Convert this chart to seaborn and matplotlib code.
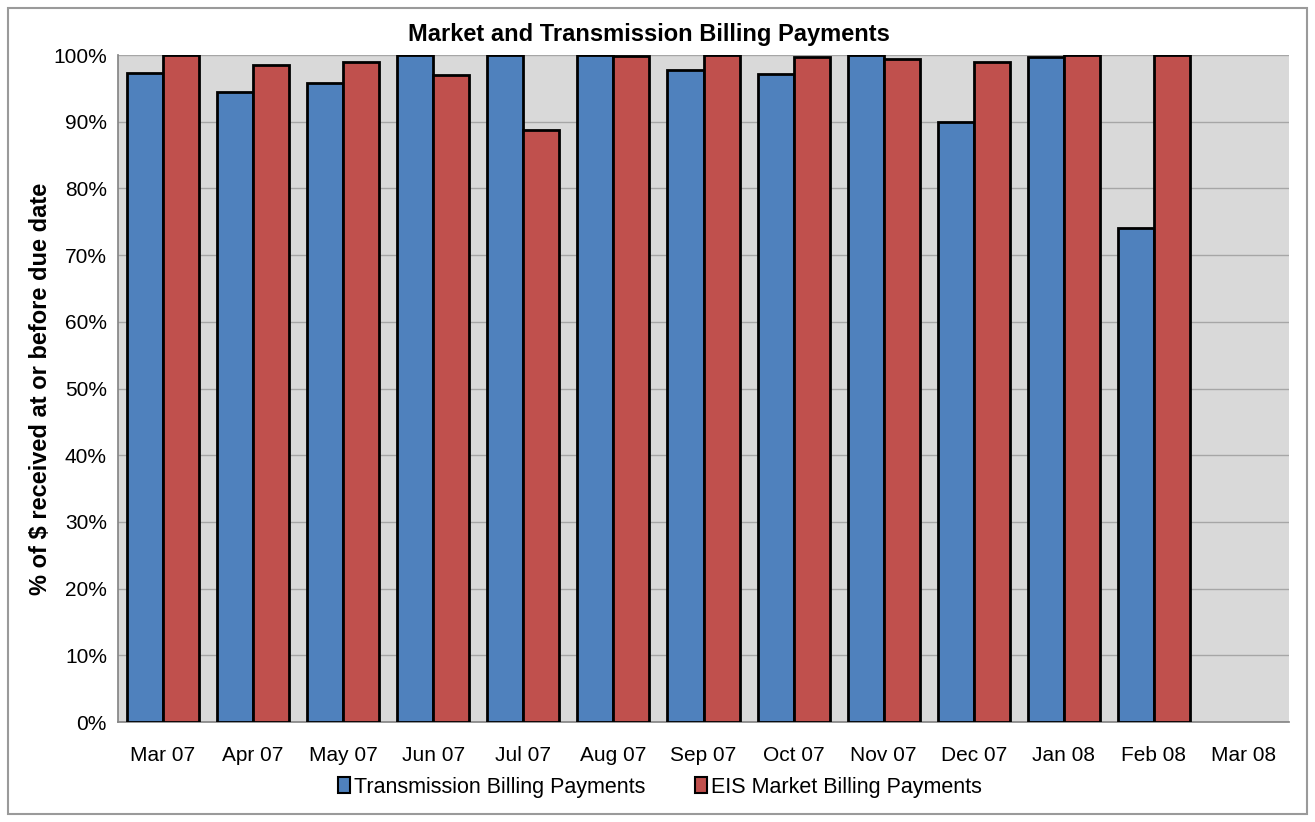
import numpy as np
import pandas as pd
import matplotlib
matplotlib.use("Agg")
import matplotlib.pyplot as plt
import seaborn as sns
from matplotlib.ticker import PercentFormatter, FixedLocator

months = ["Mar 07", "Apr 07", "May 07", "Jun 07", "Jul 07", "Aug 07", "Sep 07",
          "Oct 07", "Nov 07", "Dec 07", "Jan 08", "Feb 08", "Mar 08"]
transmission = [97.3, 94.5, 95.8, 100.0, 100.0, 100.0, 97.7,
                97.2, 100.0, 90.0, 99.7, 74.0, np.nan]
eis_market = [100.0, 98.5, 98.9, 97.0, 88.8, 99.9, 100.0,
              99.7, 99.4, 98.9, 100.0, 100.0, np.nan]
series_names = ["Transmission Billing Payments", "EIS Market Billing Payments"]
palette = ["#4F81BD", "#C0504D"]

df = pd.DataFrame({
    "month": months * 2,
    "series": [series_names[0]] * len(months) + [series_names[1]] * len(months),
    "value": transmission + eis_market,
})

sns.set_theme(style="white")
plt.rcParams["font.family"] = ["Liberation Sans", "DejaVu Sans"]
plt.rcParams["text.color"] = "black"
plt.rcParams["axes.labelcolor"] = "black"
plt.rcParams["xtick.color"] = "black"
plt.rcParams["ytick.color"] = "black"

fig = plt.figure(figsize=(13.15, 8.22), dpi=100)
ax = fig.add_axes([118 / 1315, 1 - 722 / 822, (1289 - 118) / 1315, (722 - 55) / 822])
ax.set_facecolor("#D9D9D9")

sns.barplot(data=df, x="month", y="value", hue="series", order=months,
            hue_order=series_names, palette=palette, width=0.8, gap=0,
            edgecolor="black", linewidth=2, saturation=1, ax=ax, legend=False,
            zorder=3)

ax.set_ylim(0, 100)
ax.set_xlim(-0.5, len(months) - 0.5)
ax.yaxis.set_major_locator(FixedLocator(np.arange(0, 101, 10)))
ax.yaxis.set_major_formatter(PercentFormatter(decimals=0))
ax.grid(axis="y", color="#A6A6A6", linewidth=1, zorder=0)
ax.set_axisbelow(True)

for s in ["top", "right"]:
    ax.spines[s].set_visible(False)
ax.spines["left"].set_color("#868686")
ax.spines["bottom"].set_color("#868686")

# tick marks sit between the months, labels in the middle
ax.set_xticks(np.arange(-0.5, len(months), 1), minor=True)
ax.tick_params(axis="x", which="minor", length=6, color="#868686", direction="out")
ax.tick_params(axis="x", which="major", length=0, pad=17, labelsize=15)
ax.tick_params(axis="y", which="major", length=5, color="#868686", direction="out",
               labelsize=15, pad=3)
ax.set_xlabel("")
ax.set_ylabel("% of $ received at or before due date", fontsize=17,
              fontweight="bold", labelpad=1)

fig.text(649 / 1315, 1 - 35 / 822, "Market and Transmission Billing Payments",
         ha="center", va="center", fontsize=17, fontweight="bold")

handles = [plt.Rectangle((0, 0), 1, 1, facecolor=c, edgecolor="black", linewidth=1.5)
           for c in palette]
fig.legend(handles, series_names, loc="center", bbox_to_anchor=(660 / 1315, 1 - 787 / 822),
           ncol=2, frameon=False, fontsize=15.5, handlelength=0.55, handleheight=0.75,
           handletextpad=0.2, columnspacing=2.3)

border = plt.Rectangle((8 / 1315, 8 / 822), 1 - 16 / 1315, 1 - 16 / 822,
                       transform=fig.transFigure, fill=False, edgecolor="#9A9A9A",
                       linewidth=1.5)
fig.patches.append(border)

fig.savefig("out.png", dpi=100)
